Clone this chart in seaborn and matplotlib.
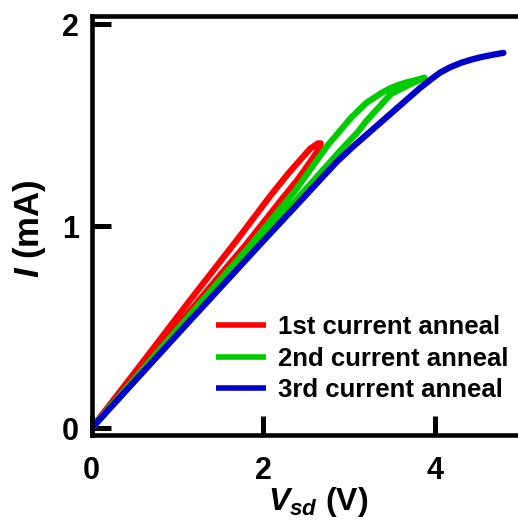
import matplotlib
matplotlib.use("Agg")
import matplotlib.pyplot as plt
import seaborn as sns
import pandas as pd

# ---- data ----
red_v = [0, 0.5, 1.0, 1.5, 1.8, 2.2, 2.4, 2.55, 2.63, 2.66, 2.67, 2.64, 2.55, 2.3, 2.1, 1.7, 1.14, 0.6, 0.2, 0]
red_i = [0, 0.25, 0.505, 0.76, 0.91, 1.125, 1.23, 1.32, 1.37, 1.39, 1.41, 1.41, 1.385, 1.265, 1.16, 0.935, 0.63, 0.33, 0.11, 0]

green_v = [0, 0.5, 1.0, 1.5, 1.84, 2.38, 2.75, 2.85, 3.03, 3.2, 3.38, 3.48, 3.58, 3.67, 3.75, 3.88,
           3.7, 3.49, 3.35, 3.2, 3.1, 2.9, 2.5, 2.0, 1.5, 1.0, 0.5, 0]
green_i = [0, 0.245, 0.49, 0.735, 0.90, 1.18, 1.40, 1.45, 1.54, 1.61, 1.66, 1.683, 1.70, 1.712, 1.72, 1.735,
           1.70, 1.655, 1.59, 1.52, 1.465, 1.375, 1.185, 0.95, 0.71, 0.472, 0.236, 0]

blue_v = [0, 1.0, 1.92, 2.5, 2.86, 3.05, 3.44, 3.83, 3.95, 4.06, 4.18, 4.3, 4.42, 4.55, 4.68, 4.8]
blue_i = [0, 0.465, 0.89, 1.155, 1.32, 1.395, 1.54, 1.685, 1.725, 1.76, 1.787, 1.808, 1.824, 1.838, 1.849, 1.858]

labels = ["1st current anneal", "2nd current anneal", "3rd current anneal"]
colors = ["#FF0000", "#00CC00", "#0000CC"]
x_ticks = [0, 2, 4]
y_ticks = [0, 1, 2]

frames = []
for lab, v, i in zip(labels, [red_v, green_v, blue_v], [red_i, green_i, blue_i]):
    frames.append(pd.DataFrame({"V": v, "I": i, "anneal": lab}))
df = pd.concat(frames, ignore_index=True)

sns.set_style("ticks")
plt.rcParams["font.family"] = ["Liberation Sans", "DejaVu Sans"]
plt.rcParams["font.weight"] = "bold"
for k in ["text.color", "axes.labelcolor", "xtick.color", "ytick.color", "axes.edgecolor"]:
    plt.rcParams[k] = "black"
plt.rcParams["mathtext.fontset"] = "custom"
plt.rcParams["mathtext.it"] = "Liberation Sans:italic:bold"
plt.rcParams["mathtext.rm"] = "Liberation Sans:bold"
plt.rcParams["mathtext.bf"] = "Liberation Sans:bold"

fig = plt.figure(figsize=(5.18, 5.24), dpi=100)
W, H = 518, 524
left_px, right_px = 91.6, 520.6
top_px, bot_px = 16.3, 435.0
ax = fig.add_axes([left_px / W, 1 - bot_px / H, (right_px - left_px) / W, (bot_px - top_px) / H])

sns.lineplot(data=df, x="V", y="I", hue="anneal", palette=dict(zip(labels, colors)),
             sort=False, estimator=None, units="anneal", lw=4.5, ax=ax)
for l in ax.get_lines():
    l.set_solid_capstyle("round")
    l.set_solid_joinstyle("round")

ax.set_xlim(0, 5.0)
ax.set_ylim(-0.033, 2.039)
ax.set_xticks(x_ticks)
ax.set_yticks(y_ticks)
ax.set_xticklabels([str(t) for t in x_ticks])
ax.set_yticklabels([str(t) for t in y_ticks])

for s in ["left", "top", "bottom"]:
    ax.spines[s].set_linewidth(3.3)
ax.spines["right"].set_visible(False)

ax.tick_params(axis="both", direction="in", length=13.7, width=3.6, labelsize=22)
ax.tick_params(axis="x", pad=15, top=False)
ax.tick_params(axis="y", pad=9, right=False)
for t in ax.get_xticklabels() + ax.get_yticklabels():
    t.set_fontweight("bold")

ax.set_xlabel(r"$V_{sd}$ (V)", fontsize=23, fontweight="bold")
ax.set_ylabel(r"$I$ (mA)", fontsize=25, fontweight="bold")
ax.xaxis.label.set_verticalalignment("bottom")
ax.xaxis.set_label_coords((318 - left_px) / (right_px - left_px), -(519 - bot_px) / (bot_px - top_px))
ax.yaxis.label.set_verticalalignment("center")
ax.yaxis.set_label_coords(-(left_px - 29) / (right_px - left_px), (bot_px - 229) / (bot_px - top_px))

leg = ax.legend(loc="upper left", bbox_to_anchor=(216 / W, 1 - 315 / H), bbox_transform=fig.transFigure,
                frameon=False, fontsize=18.5, handlelength=1.95, handletextpad=0.45,
                labelspacing=0.3, borderpad=0, borderaxespad=0)
for t in leg.get_texts():
    t.set_fontweight("bold")
for l in leg.get_lines():
    l.set_linewidth(4)
    l.set_solid_capstyle("butt")

fig.savefig("out.png", dpi=100)
